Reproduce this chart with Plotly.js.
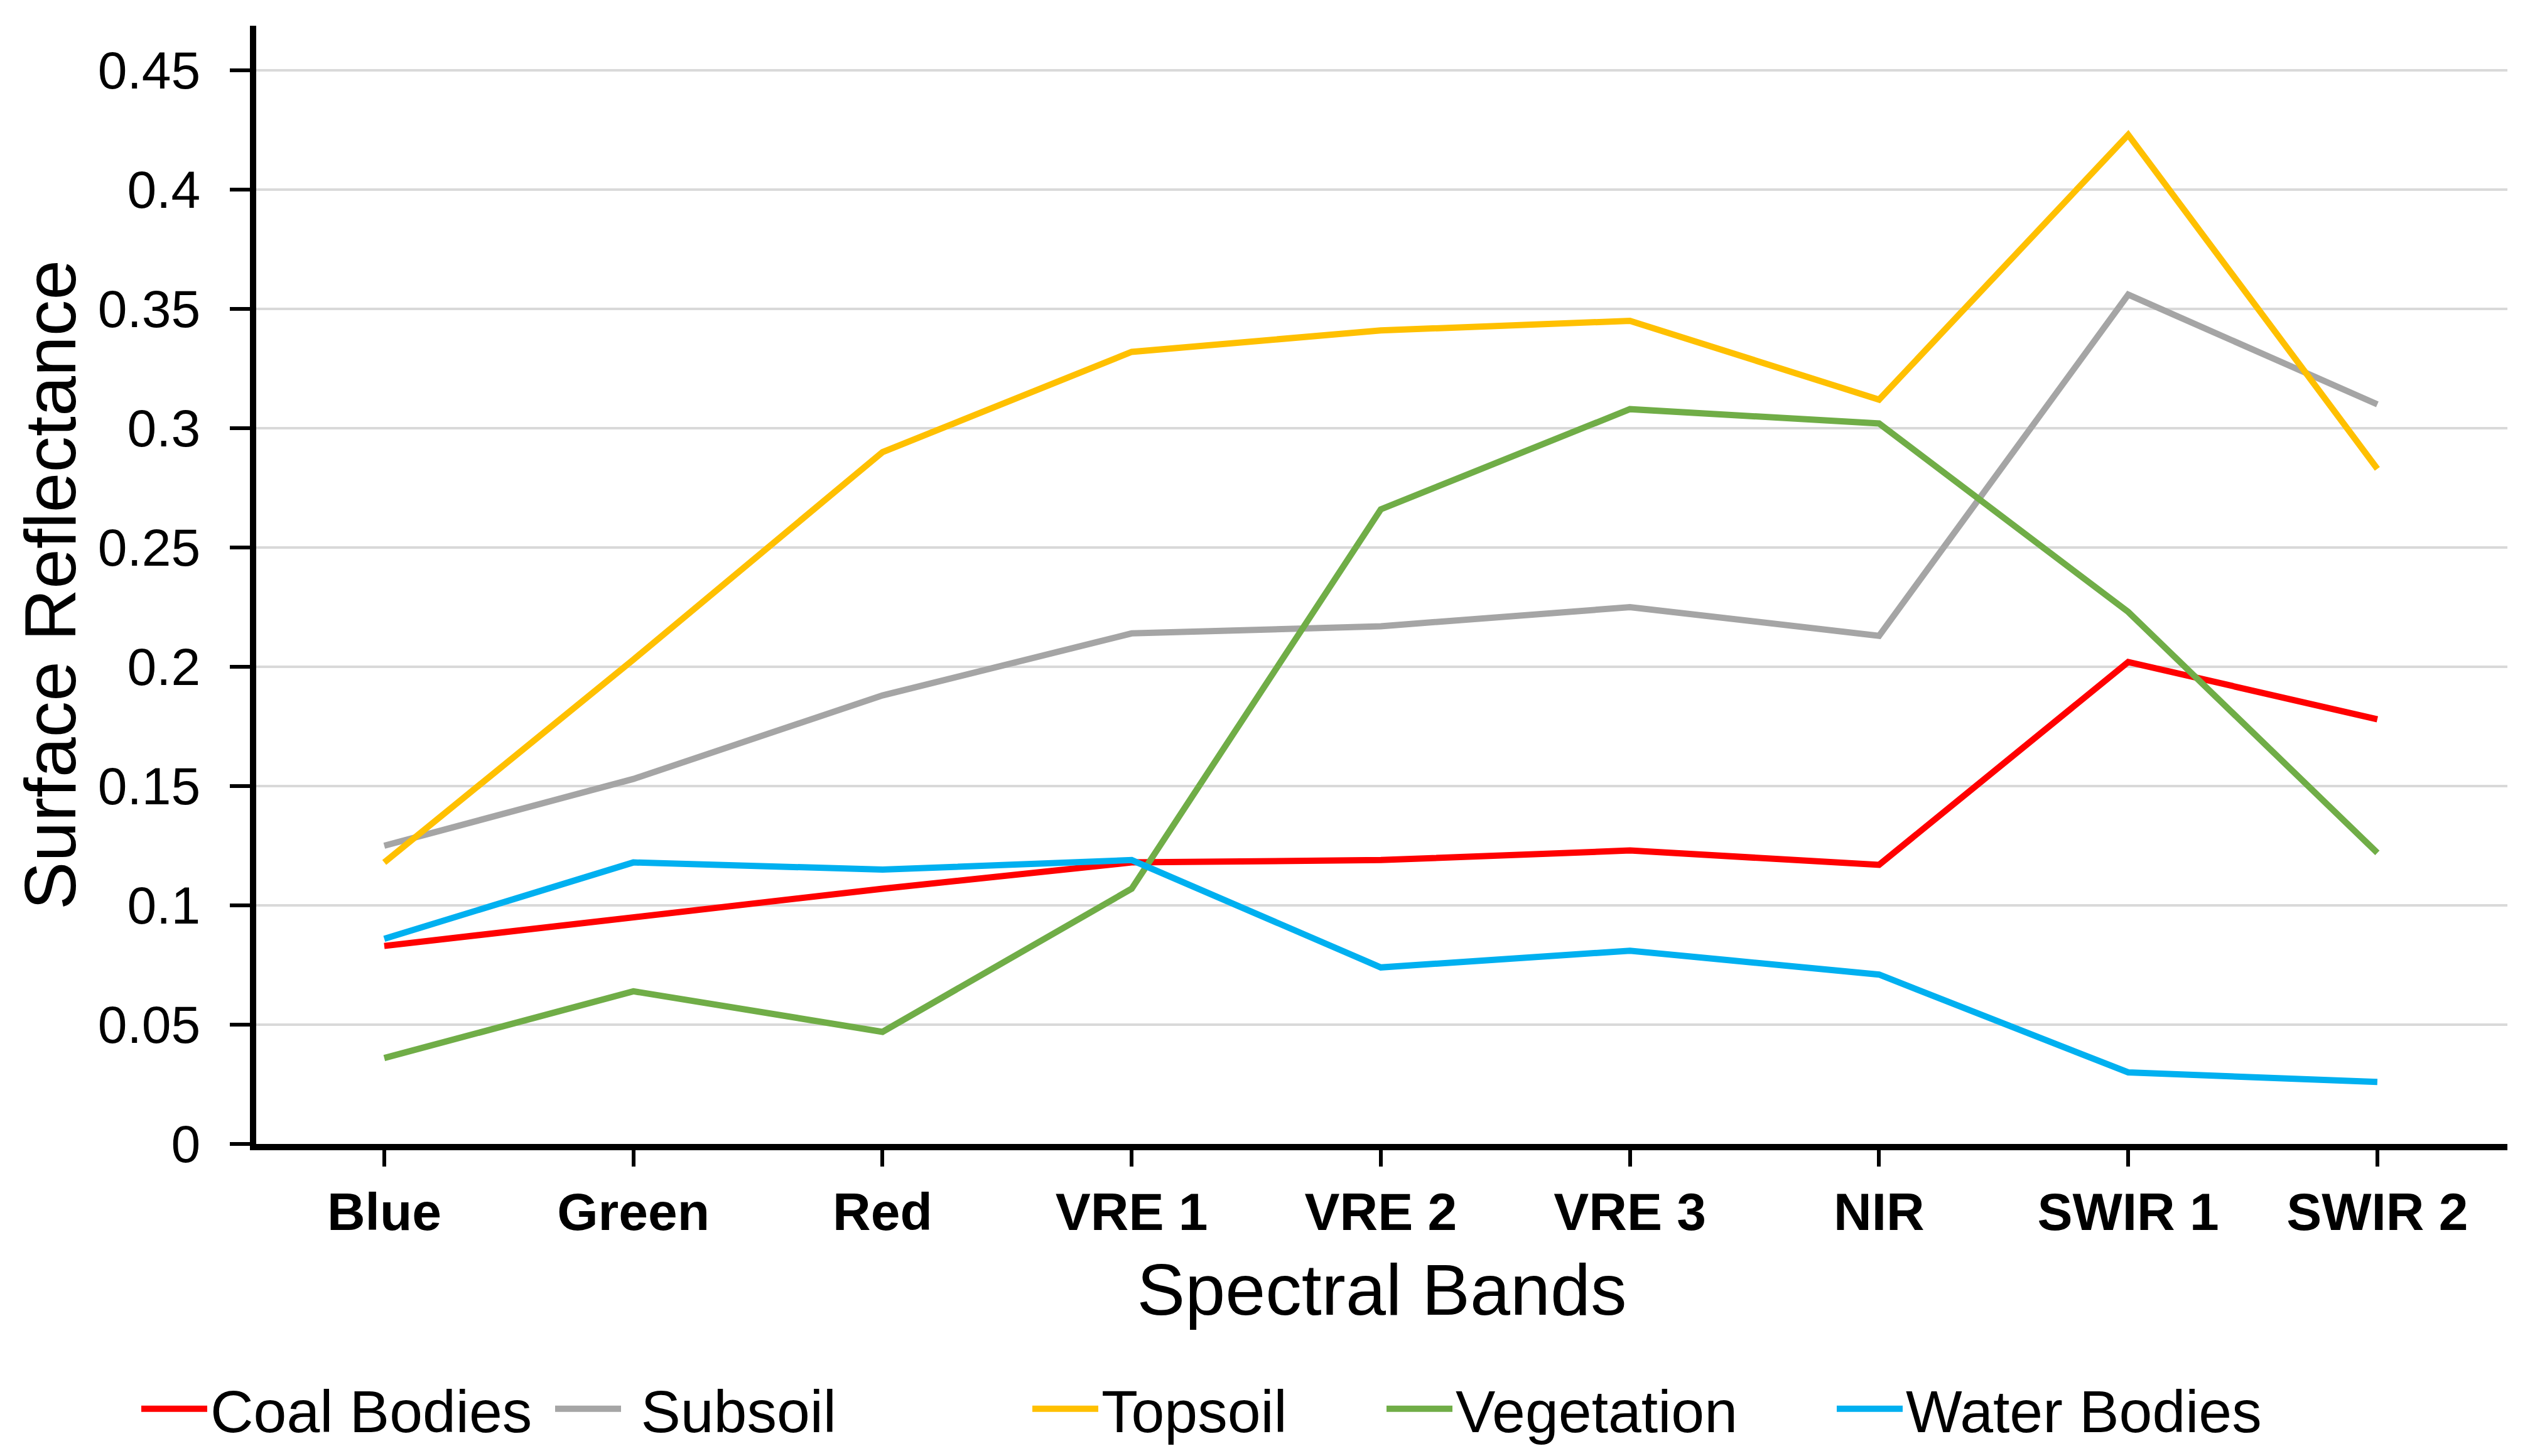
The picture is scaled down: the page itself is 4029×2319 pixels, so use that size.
<!DOCTYPE html>
<html>
<head>
<meta charset="utf-8">
<script src="https://cdn.plot.ly/plotly-3.0.1.min.js"></script>
<style>html,body{margin:0;padding:0;background:#fff;}#chart{width:4029px;height:2319px;}</style>
</head>
<body>
<div id="chart"></div>
<script>
const bands = ["Blue", "Green", "Red", "VRE 1", "VRE 2", "VRE 3", "NIR", "SWIR 1", "SWIR 2"];
const coalBodies  = [0.083, 0.095, 0.107, 0.118, 0.119, 0.123, 0.117, 0.202, 0.178];
const subsoil     = [0.125, 0.153, 0.188, 0.214, 0.217, 0.225, 0.213, 0.356, 0.310];
const topsoil     = [0.118, 0.203, 0.290, 0.332, 0.341, 0.345, 0.312, 0.423, 0.283];
const vegetation  = [0.036, 0.064, 0.047, 0.107, 0.266, 0.308, 0.302, 0.223, 0.122];
const waterBodies = [0.086, 0.118, 0.115, 0.119, 0.074, 0.081, 0.071, 0.030, 0.026];
const yTicks = [0, 0.05, 0.1, 0.15, 0.2, 0.25, 0.3, 0.35, 0.4, 0.45];
const yTickText = ["0", "0.05", "0.1", "0.15", "0.2", "0.25", "0.3", "0.35", "0.4", "0.45"];

const FONT = "Liberation Sans, Arial, sans-serif";
const W = 4029, H = 2319;
const L = 408, R = 3993, T = 41, B = 1822;

function mk(name, y, color, legendId) {
  return {
    type: "scatter", mode: "lines", name: name,
    x: bands.map((_, i) => i), y: y,
    line: {color: color, width: 10},
    legend: legendId, hoverinfo: "skip"
  };
}
const traces = [
  mk("Coal Bodies", coalBodies, "#FF0000", "legend"),
  mk("\u00a0Subsoil", subsoil, "#A5A5A5", "legend2"),
  mk("Topsoil", topsoil, "#FFC000", "legend3"),
  mk("Vegetation", vegetation, "#70AD47", "legend4"),
  mk("Water Bodies", waterBodies, "#00B0F0", "legend5")
];

function px2x(px) { return (px - L) / (R - L); }
function py2y(py) { return (B - py) / (B - T); }
function leg(pxLeft) {
  return {
    orientation: "h", x: px2x(pxLeft), xanchor: "left",
    y: py2y(2244), yanchor: "middle",
    font: {family: FONT, size: 95, color: "#000"},
    bgcolor: "rgba(0,0,0,0)", borderwidth: 0, itemwidth: 105,
    tracegroupgap: 0
  };
}

const layout = {
  width: W, height: H,
  margin: {l: L, r: W - R, t: T, b: H - B, pad: 0, autoexpand: false},
  paper_bgcolor: "#fff", plot_bgcolor: "#fff",
  font: {family: FONT, color: "#000"},
  showlegend: true,
  xaxis: {
    type: "linear", range: [-0.514, 8.522],
    tickvals: bands.map((_, i) => i), ticktext: bands,
    tickfont: {family: FONT, size: 84, color: "#000", weight: "bold"},
    ticks: "outside", ticklen: 26, tickwidth: 6, tickcolor: "#000",
    showline: true, linecolor: "#000", linewidth: 10,
    showgrid: false, zeroline: false, ticklabelstandoff: 0,
    title: {text: "Spectral Bands", font: {family: FONT, size: 115, color: "#000"}, standoff: 42},
    automargin: false
  },
  yaxis: {
    range: [0, 0.4687],
    tickvals: yTicks, ticktext: yTickText,
    tickfont: {family: FONT, size: 84, color: "#000"},
    ticks: "outside", ticklen: 32, tickwidth: 6, tickcolor: "#000",
    showline: true, linecolor: "#000", linewidth: 10,
    showgrid: true, gridcolor: "#D9D9D9", gridwidth: 4,
    zeroline: false, ticklabelstandoff: 30,
    title: {text: "Surface Reflectance", font: {family: FONT, size: 115, color: "#000"}, standoff: 0},
    automargin: false
  },
  legend: leg(220),
  legend2: leg(879),
  legend3: leg(1639),
  legend4: leg(2203),
  legend5: leg(2920)
};

Plotly.newPlot("chart", traces, layout, {staticPlot: true, displayModeBar: false});
</script>
</body>
</html>
